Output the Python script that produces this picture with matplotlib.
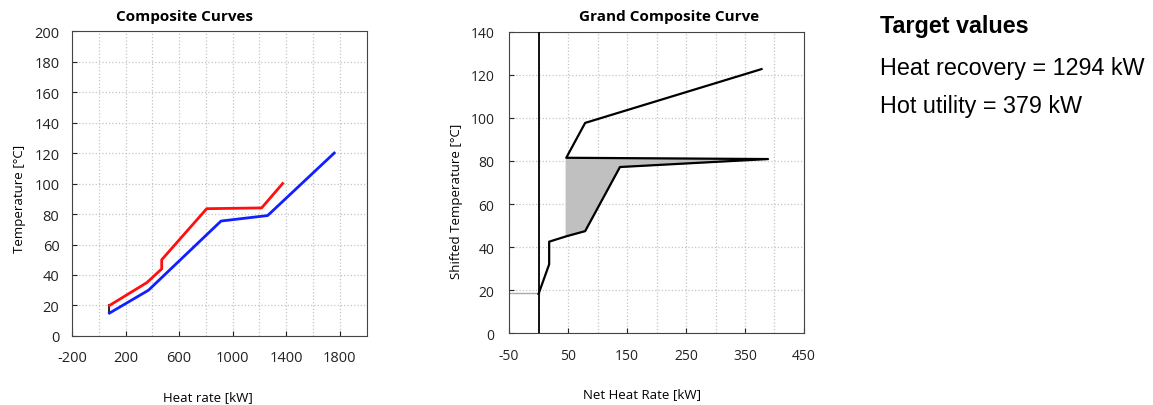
import matplotlib.pyplot as plt
import numpy as np

# composite curves (heat rate kW, temperature C)
hot_q = [80, 359, 470, 470, 806, 1216, 1373]
hot_t = [20, 35, 44, 50, 83.5, 84, 100]
cold_q = [80, 371, 913, 1261, 1758]
cold_t = [15, 30, 75.4, 79, 120]

# grand composite curve (net heat rate kW, shifted temperature C)
gcc_q = [378, 79, 47, 389, 138, 79, 47, 18, 18, 0]
gcc_t = [122.7, 97.7, 81.5, 80.9, 77.2, 47.4, 45, 42.5, 32, 18.2]
pocket_q = [47, 389, 138, 79, 47]
pocket_t = [81.5, 80.9, 77.2, 47.4, 45]

heat_recovery = 1294
hot_utility = 379

plt.rcParams['font.family'] = ['Open Sans', 'DejaVu Sans']
plt.rcParams['axes.unicode_minus'] = False

fig = plt.figure(figsize=(11.53, 4.06), dpi=100)

grid_kw = dict(color='#c4c4c4', linestyle=':', linewidth=0.9)

# ---- left: composite curves
ax1 = fig.add_axes([0.0624, 0.170, 0.2556, 0.751])
ax1.plot(hot_q, hot_t, color='#ff1010', lw=2.0, zorder=3)
ax1.plot(cold_q, cold_t, color='#1020ff', lw=2.0, zorder=3)
ax1.plot([cold_q[0], hot_q[0]], [cold_t[0], hot_t[0]], color='black', lw=1.2, zorder=2)
ax1.set_xlim(-200, 2000)
ax1.set_ylim(0, 200)
ax1.set_xticks([-200, 200, 600, 1000, 1400, 1800])
ax1.set_xticks([0, 400, 800, 1200, 1600, 2000], minor=True)
ax1.set_yticks(np.arange(0, 201, 20))
ax1.grid(True, which='both', **grid_kw)
ax1.tick_params(which='major', direction='in', length=3.5, labelsize=10.5, colors='#222222')
ax1.tick_params(axis='x', which='major', pad=10)
ax1.tick_params(axis='y', which='major', pad=9)
ax1.tick_params(which='minor', length=0)
for s in ax1.spines.values():
    s.set_color('#444444')
fig.text(0.16, 0.958, 'Composite Curves', ha='center', va='center', fontsize=11, fontweight='bold')
fig.text(0.18, 0.022, 'Heat rate [kW]', ha='center', va='center', fontsize=9.5)
fig.text(0.017, 0.51, 'Temperature [°C]', ha='center', va='center', fontsize=9.5, rotation=90)

# ---- right: grand composite curve
ax2 = fig.add_axes([0.4415, 0.177, 0.2558, 0.742])
ax2.fill(pocket_q, pocket_t, color='#c0c0c0', zorder=2)
ax2.plot(gcc_q, gcc_t, color='black', lw=1.6, zorder=3)
ax2.axvline(0, color='black', lw=1.3, zorder=3)
ax2.plot([-50, 0], [18.5, 18.5], color='#aaaaaa', lw=1.0, zorder=2)
ax2.set_xlim(-50, 450)
ax2.set_ylim(0, 140)
ax2.set_xticks([-50, 50, 150, 250, 350, 450])
ax2.set_xticks([0, 100, 200, 300, 400], minor=True)
ax2.set_yticks(np.arange(0, 141, 20))
ax2.grid(True, which='both', **grid_kw)
ax2.tick_params(which='major', direction='in', length=3.5, labelsize=10, colors='#222222')
ax2.tick_params(axis='x', which='major', pad=10.5)
ax2.tick_params(axis='y', which='major', pad=10.5)
ax2.tick_params(which='minor', length=0)
for s in ax2.spines.values():
    s.set_color('#444444')
fig.text(0.580, 0.958, 'Grand Composite Curve', ha='center', va='center', fontsize=11, fontweight='bold')
fig.text(0.557, 0.027, 'Net Heat Rate [kW]', ha='center', va='center', fontsize=9.5)
fig.text(0.396, 0.505, 'Shifted Temperature [°C]', ha='center', va='center', fontsize=9.5, rotation=90)

# ---- target values
fig.text(0.763, 0.919, 'Target values', ha='left', va='baseline', fontsize=16.8,
         fontweight='bold', family='Liberation Sans')
fig.text(0.763, 0.815, f'Heat recovery = {heat_recovery} kW', ha='left', va='baseline',
         fontsize=16.8, family='Liberation Sans')
fig.text(0.763, 0.722, f'Hot utility = {hot_utility} kW', ha='left', va='baseline',
         fontsize=16.8, family='Liberation Sans')

fig.savefig('out.png', dpi=100)
